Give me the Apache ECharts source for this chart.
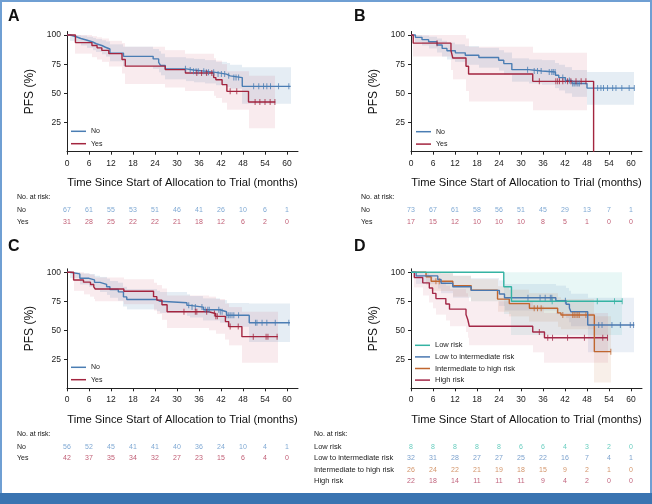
<!DOCTYPE html>
<html><head><meta charset="utf-8">
<script src="https://cdn.jsdelivr.net/npm/echarts@6/dist/echarts.min.js"></script>
<style>
html,body{margin:0;padding:0;background:#fff;}
#wrap{position:relative;width:652px;height:504px;overflow:hidden;background:#fff;}
#chart{position:absolute;left:0;top:0;width:652px;height:504px;}
#frame{position:absolute;left:0;top:0;width:652px;height:494px;box-sizing:border-box;border:2px solid #6f9fd3;border-bottom:none;pointer-events:none;}
#bar{position:absolute;left:0;top:493px;width:652px;height:11px;background:#3a74b1;}
</style></head><body>
<div id="wrap"><div id="chart"></div><div id="frame"></div><div id="bar"></div></div>
<script>
const tickMonths = [0,6,12,18,24,30,36,42,48,54,60];
const yTicks = [25,50,75,100];
const xTitle = 'Time Since Start of Allocation to Trial (months)';
const yTitle = 'PFS (%)';

// ---- Panel A ----
const aNoT = [0,0.9,2.5,3.8,5.5,7,8,9.5,10.5,11.7,15.4,23.5,25,25.5,26.8,32.5,34.5,37.5,40.5,43.5,44.5,47.8,61];
const aNoS = [100,98.5,97,95.5,94,92.5,91,89.5,88,84.5,81.7,79.5,76.5,74,71,70,69,68,66.5,65,63.5,56,56];
const aNoBL = [100,95,93,91,89,87,85.5,83.5,81.5,77.5,73.5,71,68,65.5,62,60.5,59.5,58.5,57,55.5,54,41];
const aNoBH = [100,100,100,99.5,98.5,97.5,96.5,95.5,94.5,92,90,88,86,84,81,80,79.5,78.5,77,76,74.5,72.3];
const aNoC = [32.3,33.6,34.5,35.2,35.8,37.3,38,38.6,40,41.2,42.1,43,44.1,45.5,46.1,46.8,50.9,52.3,53.6,54.5,55.5,57.7,60.5];
const aYesT = [0,2.3,6.8,8.2,9.5,11.4,15,15.9,26.8,32.3,40,40.6,42.3,43.6,49.5,56.8];
const aYesS = [100,93.5,91,89,86.8,84,79,73.3,70.3,67.5,63.5,61.7,57.5,51.7,42.6,42.6];
const aYesBL = [100,84,81,79,77,73,67,58,55,52,48,46,42,36,20];
const aYesBH = [100,100,99,98,97,95,93,90,87,84,80,78,75,69,65];
const aYesC = [35.4,36.7,38.1,39.5,44.5,46.3,51.3,52.6,54,55.4,56.7];
const aRiskNo = [67,61,55,53,51,46,41,26,10,6,1];
const aRiskYes = [31,28,25,22,22,21,18,12,6,2,0];

// ---- Panel B ----
const bNoT = [0,1.2,3,4.8,7.1,8.5,9.8,12.1,14.8,18.5,23.9,25.3,27.5,32.1,35.7,39.4,40.3,42.1,43.9,48,60.9];
const bNoS = [100,98,96,94.2,91.4,88.5,86.5,84.7,82.7,80.7,78.4,75.5,70.3,69.2,68.3,65.5,63.5,61,58.5,54.5,54.5];
const bNoBL = [100,94,91,88.5,85,81.5,79,77,74.5,72,69.5,66,60,58.5,57.5,54.5,52.5,50,47,40.3];
const bNoBH = [100,100,99.5,98.5,97,95,93.5,92,90.5,89,87,85,80,79,78.5,76,74.5,72.5,70,68.3];
const bNoC = [31.8,33.6,34.5,35.5,37.7,38.4,38.8,39.3,41.4,42.1,43.2,44.1,44.5,45,45.5,45.9,50.9,51.8,52.5,53.6,55,55.9,57.5,59.5,60.9];
const bYesT = [0,0.6,10.9,11.4,15,15.7,33.2,49.8];
const bYesS = [100,93,86.6,80.3,73.2,66.6,60.3,0];
const bYesBT = [0,0.6,10.9,11.4,15,15.7,33.2,48];
const bYesBL = [100,81.5,70,62,52,43,35.5];
const bYesBH = [100,100,100,100,97,90,84.7];
const bYesC = [7.1,35,39.5,40,40.5,41.4,42.7,43.6,45,46.4,47.7];
const bRiskNo = [73,67,61,58,56,51,45,29,13,7,1];
const bRiskYes = [17,15,12,10,10,10,8,5,1,0,0];

// ---- Panel C ----
const cNoT = [0,0.8,3.5,6,7.5,9,10.8,11.7,14,15.4,16.3,24.5,25.4,32.7,33.5,37.2,41.7,43.5,49.7,60.8];
const cNoS = [100,98.6,94.8,93.4,91.3,89.6,87.5,85.2,83.1,78.8,76.5,75,73.8,71.5,70,67.7,66,63,56.5,56.5];
const cNoBL = [100,95,89.5,87.5,85,83,80.5,78,75.5,70.5,68,66.5,65,62.5,61,58.5,56.5,53,40];
const cNoBH = [100,100,99,98.5,97,96,94.5,92.5,91,87.5,85.5,84,83,81,79.5,77.5,76,73.5,73];
const cNoC = [33.2,34.1,35,36.8,37.7,38.4,38.8,41.4,41.8,42.3,43.6,44.1,44.5,45,45.5,46.8,51.4,51.8,53.2,54.5,56.8,60.5];
const cYesT = [0,1.8,4.5,6.4,7.3,7.7,15.5,23.6,24.5,25.9,27.3,38.6,40.5,43.2,44.1,47.7,57.5];
const cYesS = [100,93.4,91.5,89.5,87.5,85.6,83.6,79,76,72,66,64.5,62,57.5,53.2,44.5,44.5];
const cYesBL = [100,84,81,79,77,75,72.5,67,64,59,52,50,47,42,37,22];
const cYesBH = [100,100,99,98,97,95.5,94,91,89,86,80,79,77,73,70,66];
const cYesC = [31.9,35,35.4,38.1,40.2,40.6,41,44.5,46.7,50.8,54.3,54.8,57.3];
const cRiskNo = [56,52,45,41,41,40,36,24,10,4,1];
const cRiskYes = [42,37,35,34,32,27,23,15,6,4,0];

// ---- Panel D ----
const dLowT = [0,25.3,27.4,57.6];
const dLowS = [100,87.5,75,75];
const dLowBT = [25.3,27.4,57.6];
const dLowBL = [64,46];
const dLowBH = [100,100];
const dLowC = [38.5,50.8,55.5,57.6];
const dLiT = [0,1.4,7.3,8.2,11.4,16.4,24.1,25.5,39.5,42.3,43.2,43.6,48.2,60.9];
const dLiS = [100,96.9,93.8,90.6,87.5,84.4,81.3,78.1,75.5,72.5,69.2,66,54.6,54.6];
const dLiBL = [100,90,86,82,78,75,71,67,64,60.5,57,53.5,31];
const dLiBH = [100,100,100,99,97,95,93,90,88.5,86.5,84,81.5,78];
const dLiC = [31.9,35.2,36.6,38,38.4,42.1,51.2,52.1,54.8,57.1,59.8,60.7];
const dIhT = [0,4.1,5.5,11.4,16.4,23.6,26.8,32.3,40,40.9,50,54.5];
const dIhS = [100,96.2,92.3,88.5,84.6,76.9,73,69,65,63.2,31.6,31.6];
const dIhBL = [100,89,84,79,75,66,62,57.5,53,51,5];
const dIhBH = [100,100,100,97,94,88,85,82,78.5,77,62];
const dIhC = [6.8,7.7,33.6,34.5,35.5,41.4,44.1,44.5,45,45.5,45.9,47.7,54.5];
const dHiT = [0,0.9,3.2,5,5.9,6.8,9.5,10.5,15,15.5,15.9,33.2,36.4,53.6];
const dHiS = [100,95.5,90.9,86.4,81.8,77.3,72.7,68.2,63.6,59.1,53.5,48.5,43.6,43.6];
const dHiBL = [100,87,80,74,69,63.5,58.5,53.5,48.5,43.5,37,31,22];
const dHiBH = [100,100,99,97,94.5,91.5,88.5,85.5,82,79,75,71,65];
const dHiC = [35,37.3,38.6,42.7,47.3,52.3,53.6];
const dRiskLow = [8,8,8,8,8,6,6,4,3,2,0];
const dRiskLi = [32,31,28,27,27,25,22,16,7,4,1];
const dRiskIh = [26,24,22,21,19,18,15,9,2,1,0];
const dRiskHi = [22,18,14,11,11,11,9,4,2,0,0];

const rowsAB = ['No','Yes'];
const rowsD = ['Low risk','Low to intermediate risk','Intermediate to high risk','High risk'];

const FONT = '"Liberation Sans", Arial, sans-serif';
const C_NO = '#4a7db3', C_YES = '#a3253f';
const C_LOW = '#35b3a3', C_LI = '#4a78b0', C_IH = '#c0662f', C_HI = '#a32847';
const T_NO = '#5e92c8', T_YES = '#b03350';
const T_LOW = '#3fbfae', T_LI = '#5a8ac0', T_IH = '#c87a45', T_HI = '#b03a5a';
const B_NO = 'rgba(74,125,179,0.14)', B_YES = 'rgba(196,70,100,0.11)';
const B_LOW = 'rgba(64,190,180,0.12)', B_LI = 'rgba(80,120,180,0.12)', B_IH = 'rgba(200,120,70,0.12)', B_HI = 'rgba(200,80,110,0.10)';

function stepAt(T, S, t) { let v = S[0]; for (let i = 0; i < T.length; i++) { if (T[i] <= t) v = S[i]; } return v; }
function segs(T, L, H) { const out = []; for (let i = 0; i < L.length; i++) out.push([T[i], T[i+1], L[i], H[i]]); return out; }

function bandSeries(gi, T, L, H, color) {
  return { type: 'custom', xAxisIndex: gi, yAxisIndex: gi, silent: true, z: 1,
    data: segs(T, L, H), encode: { x: [0, 1], y: [2, 3] },
    renderItem: function (params, api) {
      const p0 = api.coord([api.value(0), api.value(3)]);
      const p1 = api.coord([api.value(1), api.value(2)]);
      const x0 = Math.round(p0[0]), x1 = Math.round(p1[0]);
      return { type: 'rect', shape: { x: x0, y: p0[1], width: x1 - x0, height: p1[1] - p0[1] }, style: { fill: color } };
    } };
}
function kmLine(name, gi, T, S, color) {
  return { type: 'line', name: name, xAxisIndex: gi, yAxisIndex: gi, step: 'end', symbol: 'none', showSymbol: false, z: 3,
    data: T.map((t, i) => [t, S[i]]), lineStyle: { color: color, width: 1.4 }, itemStyle: { color: color } };
}
function cens(gi, T, S, C, color) {
  return { type: 'scatter', xAxisIndex: gi, yAxisIndex: gi, symbol: 'rect', symbolSize: [1, 6], z: 4, silent: true,
    data: C.map(t => [t, stepAt(T, S, t)]), itemStyle: { color: color } };
}
function risk(gi, row, vals, color) {
  return { type: 'scatter', xAxisIndex: gi, yAxisIndex: gi, symbolSize: 1, silent: true,
    data: tickMonths.map((t, i) => [t, row, vals[i]]), itemStyle: { color: 'transparent' },
    label: { show: true, position: 'inside', formatter: p => String(p.value[2]), color: color, fontSize: 7, fontFamily: FONT } };
}
const axisLine = { show: true, onZero: false, lineStyle: { color: '#222', width: 1 } };
function plotX(gi) {
  return { type: 'value', gridIndex: gi, min: 0, max: 63, axisLine: axisLine,
    axisTick: { show: true, length: 3, customValues: tickMonths, lineStyle: { color: '#222' } },
    axisLabel: { customValues: tickMonths, fontSize: 8.5, color: '#222', margin: 7, fontFamily: FONT },
    splitLine: { show: false }, name: xTitle, nameLocation: 'middle', nameGap: 26,
    nameTextStyle: { fontFamily: FONT, fontSize: 11.2, color: '#111' } };
}
function plotY(gi) {
  return { type: 'value', gridIndex: gi, min: 0, max: 103, axisLine: axisLine,
    axisTick: { show: true, length: 3, customValues: yTicks, lineStyle: { color: '#222' } },
    axisLabel: { customValues: yTicks, fontSize: 8.5, color: '#222', margin: 6, fontFamily: FONT },
    splitLine: { show: false }, name: yTitle, nameLocation: 'middle', nameGap: 31, nameRotate: 90,
    nameTextStyle: { fontFamily: FONT, fontSize: 12, color: '#111' } };
}
function tabX(gi) { return { type: 'value', gridIndex: gi, min: 0, max: 63, show: false }; }
function tabY(gi, rows, margin, fs) {
  return { type: 'category', gridIndex: gi, data: rows, inverse: true, axisLine: { show: false }, axisTick: { show: false },
    axisLabel: { align: 'left', margin: margin, fontSize: fs, color: '#222', fontFamily: FONT }, splitLine: { show: false } };
}
function legend(left, top, names, fs, gap) {
  return { left: left, top: top, orient: 'vertical', data: names, icon: 'rect', itemWidth: 15, itemHeight: 1.5, itemGap: gap, padding: 0,
    selectedMode: false, textStyle: { fontSize: fs, lineHeight: 8, color: '#222', fontFamily: FONT } };
}
function ttl(text, left, top, fs, bold) {
  return { text: text, left: left, top: top, padding: 0, textStyle: { fontSize: fs, fontWeight: bold ? 'bold' : 'normal', color: '#111', fontFamily: FONT } };
}

const g = (left, top, height) => ({ left: left, top: top, width: 231, height: height, outerBoundsMode: 'none', containLabel: false });

const option = {
  animation: false,
  backgroundColor: '#fff',
  title: [
    ttl('A', 8, 9, 16, true), ttl('B', 354, 9, 16, true), ttl('C', 8, 239, 16, true), ttl('D', 354, 239, 16, true),
    ttl('No. at risk:', 17, 194, 7, false), ttl('No. at risk:', 361, 194, 7, false),
    ttl('No. at risk:', 17, 430.5, 7, false), ttl('No. at risk:', 314, 430.5, 7, false)
  ],
  legend: [
    legend(71, 127.3, ['No', 'Yes'], 7, 4.4), legend(416, 127.7, ['No', 'Yes'], 7, 4.4),
    legend(71, 363.3, ['No', 'Yes'], 7, 4.4), legend(415, 341.3, rowsD, 7.5, 3.6)
  ],
  grid: [
    g(67, 31.5, 120.2), g(411, 31.5, 120.2), g(67, 268.8, 119.5), g(411, 268.8, 119.5),
    g(67, 204.2, 23.4), g(411, 204.2, 23.4), g(67, 440.9, 23.2), g(411, 440.9, 46)
  ],
  xAxis: [plotX(0), plotX(1), plotX(2), plotX(3), tabX(4), tabX(5), tabX(6), tabX(7)],
  yAxis: [plotY(0), plotY(1), plotY(2), plotY(3),
    tabY(4, rowsAB, 50, 7), tabY(5, rowsAB, 50, 7), tabY(6, rowsAB, 50, 7), tabY(7, rowsD, 97, 7.5)],
  series: [
    bandSeries(0, aNoT, aNoBL, aNoBH, B_NO), bandSeries(0, aYesT, aYesBL, aYesBH, B_YES),
    bandSeries(1, bNoT, bNoBL, bNoBH, B_NO), bandSeries(1, bYesBT, bYesBL, bYesBH, B_YES),
    bandSeries(2, cNoT, cNoBL, cNoBH, B_NO), bandSeries(2, cYesT, cYesBL, cYesBH, B_YES),
    bandSeries(3, dLowBT, dLowBL, dLowBH, B_LOW), bandSeries(3, dLiT, dLiBL, dLiBH, B_LI),
    bandSeries(3, dIhT, dIhBL, dIhBH, B_IH), bandSeries(3, dHiT, dHiBL, dHiBH, B_HI),
    kmLine('No', 0, aNoT, aNoS, C_NO), kmLine('Yes', 0, aYesT, aYesS, C_YES),
    kmLine('No', 1, bNoT, bNoS, C_NO), kmLine('Yes', 1, bYesT, bYesS, C_YES),
    kmLine('No', 2, cNoT, cNoS, C_NO), kmLine('Yes', 2, cYesT, cYesS, C_YES),
    kmLine(rowsD[3], 3, dHiT, dHiS, C_HI), kmLine(rowsD[2], 3, dIhT, dIhS, C_IH),
    kmLine(rowsD[1], 3, dLiT, dLiS, C_LI), kmLine(rowsD[0], 3, dLowT, dLowS, C_LOW),
    cens(0, aNoT, aNoS, aNoC, C_NO), cens(0, aYesT, aYesS, aYesC, C_YES),
    cens(1, bNoT, bNoS, bNoC, C_NO), cens(1, bYesT, bYesS, bYesC, C_YES),
    cens(2, cNoT, cNoS, cNoC, C_NO), cens(2, cYesT, cYesS, cYesC, C_YES),
    cens(3, dLowT, dLowS, dLowC, C_LOW), cens(3, dLiT, dLiS, dLiC, C_LI),
    cens(3, dIhT, dIhS, dIhC, C_IH), cens(3, dHiT, dHiS, dHiC, C_HI),
    risk(4, 'No', aRiskNo, T_NO), risk(4, 'Yes', aRiskYes, T_YES),
    risk(5, 'No', bRiskNo, T_NO), risk(5, 'Yes', bRiskYes, T_YES),
    risk(6, 'No', cRiskNo, T_NO), risk(6, 'Yes', cRiskYes, T_YES),
    risk(7, rowsD[0], dRiskLow, T_LOW), risk(7, rowsD[1], dRiskLi, T_LI),
    risk(7, rowsD[2], dRiskIh, T_IH), risk(7, rowsD[3], dRiskHi, T_HI)
  ]
};
const chart = echarts.init(document.getElementById('chart'), null, { renderer: 'canvas' });
chart.setOption(option);
</script></body></html>
